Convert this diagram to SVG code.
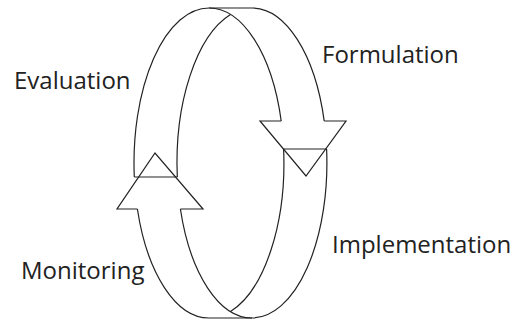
<svg xmlns="http://www.w3.org/2000/svg" width="516" height="320" viewBox="0 0 516 320">
<style>
.ln{fill:none;stroke:#222;stroke-width:1.2;stroke-linejoin:miter}
.lb{font-family:"Open Sans","Liberation Sans",sans-serif;font-size:24px;fill:#222}
</style>
<rect width="516" height="320" fill="#fff"/>
<g id="connectors">
<g id="formulation-arrow">
<path class="ln" d="M134.3,177 A75,155 0 0 1 209,8 L252,8 A75,155 0 0 1 324.2,121"/>
<path class="ln" d="M177.3,177 A75,155 0 0 1 230.5,14.5"/>
<path class="ln" d="M209,8 A75,155 0 0 1 281.2,121"/>
<path class="ln" d="M134.3,177 L177.3,177"/>
<path class="ln" d="M281.2,121 L260,121 L306,176 L346,121 L324.2,121"/>
</g>
<g id="monitoring-arrow">
<path class="ln" d="M137.4,209 A75,155 0 0 0 209,318 L252,318 A75,155 0 0 0 326.6,149"/>
<path class="ln" d="M180.4,209 A75,155 0 0 0 252,318"/>
<path class="ln" d="M230.5,311.5 A75,155 0 0 0 283.6,149"/>
<path class="ln" d="M283.6,149 L326.6,149"/>
<path class="ln" d="M137.4,209 L117,209 L155,153 L203,209 L180.4,209"/>
</g>
</g>
<g id="evaluation"><text class="lb" x="14" y="89">Evaluation</text></g>
<g id="formulation"><text class="lb" x="322" y="63">Formulation</text></g>
<g id="implementation"><text class="lb" x="332" y="253">Implementation</text></g>
<g id="monitoring"><text class="lb" x="21" y="279">Monitoring</text></g>
</svg>
